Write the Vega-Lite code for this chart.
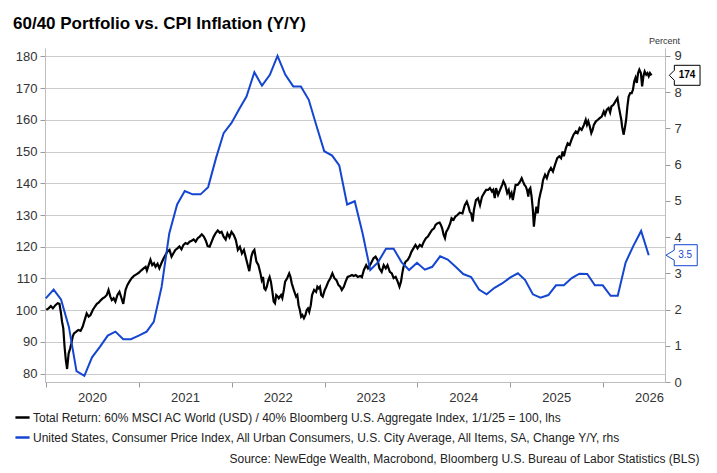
{
  "$schema": "https://vega.github.io/schema/vega-lite/v6.json",
  "width": 620,
  "height": 334,
  "autosize": {"type": "none"},
  "padding": {"left": 45, "top": 48, "right": 52, "bottom": 91},
  "background": "white",
  "config": {
    "font": "Liberation Sans",
    "view": {"stroke": null},
    "axis": {"labelFont": "Liberation Sans", "labelColor": "#333333", "labelFontSize": 13, "domainColor": "#bdbdbd", "tickColor": "#9a9a9a", "tickSize": 5}
  },
  "title": {
    "text": "60/40 Portfolio vs. CPI Inflation (Y/Y)",
    "anchor": "start",
    "frame": "group",
    "font": "Liberation Sans",
    "fontSize": 17,
    "fontWeight": "bold",
    "color": "#000000",
    "dx": -32,
    "offset": 4
  },
  "datasets": {
    "portfolio": [
      {"date":"2020-01-02","value":100.1},{"date":"2020-01-11","value":100.6},{"date":"2020-01-20","value":101.3},{"date":"2020-01-28","value":100.6},
      {"date":"2020-02-07","value":101.6},{"date":"2020-02-16","value":102.2},{"date":"2020-02-23","value":102.0},{"date":"2020-02-29","value":99.0},
      {"date":"2020-03-04","value":96.4},{"date":"2020-03-09","value":94.3},{"date":"2020-03-14","value":88.5},{"date":"2020-03-19","value":84.3},
      {"date":"2020-03-24","value":81.5},{"date":"2020-03-30","value":86.4},{"date":"2020-04-05","value":88.0},{"date":"2020-04-10","value":89.6},
      {"date":"2020-04-15","value":91.7},{"date":"2020-04-20","value":92.7},{"date":"2020-04-28","value":93.2},{"date":"2020-05-07","value":93.8},
      {"date":"2020-05-16","value":93.5},{"date":"2020-05-24","value":94.8},{"date":"2020-06-01","value":96.9},{"date":"2020-06-09","value":99.0},
      {"date":"2020-06-17","value":98.0},{"date":"2020-06-24","value":98.5},{"date":"2020-07-03","value":100.1},{"date":"2020-07-11","value":101.1},
      {"date":"2020-07-19","value":102.0},{"date":"2020-07-26","value":102.4},{"date":"2020-08-04","value":103.2},{"date":"2020-08-12","value":103.8},
      {"date":"2020-08-19","value":104.1},{"date":"2020-08-27","value":104.8},{"date":"2020-09-03","value":106.4},{"date":"2020-09-10","value":104.3},
      {"date":"2020-09-16","value":103.2},{"date":"2020-09-23","value":103.8},{"date":"2020-09-30","value":102.7},{"date":"2020-10-08","value":104.8},
      {"date":"2020-10-16","value":105.8},{"date":"2020-10-23","value":104.1},{"date":"2020-10-31","value":102.0},{"date":"2020-11-09","value":106.4},
      {"date":"2020-11-16","value":107.9},{"date":"2020-11-24","value":109.0},{"date":"2020-12-03","value":110.1},{"date":"2020-12-12","value":110.8},
      {"date":"2020-12-23","value":111.4},{"date":"2020-12-31","value":111.8},{"date":"2021-01-09","value":112.5},{"date":"2021-01-19","value":113.2},
      {"date":"2021-01-27","value":113.7},{"date":"2021-02-01","value":112.5},{"date":"2021-02-08","value":114.2},{"date":"2021-02-15","value":115.9},
      {"date":"2021-02-22","value":114.2},{"date":"2021-03-01","value":114.8},{"date":"2021-03-07","value":113.7},{"date":"2021-03-15","value":114.6},
      {"date":"2021-03-22","value":113.2},{"date":"2021-03-30","value":114.8},{"date":"2021-04-08","value":116.4},{"date":"2021-04-15","value":117.4},
      {"date":"2021-04-23","value":118.5},{"date":"2021-05-01","value":119.0},{"date":"2021-05-09","value":116.9},{"date":"2021-05-16","value":117.9},
      {"date":"2021-05-24","value":119.0},{"date":"2021-06-01","value":119.5},{"date":"2021-06-09","value":120.1},{"date":"2021-06-17","value":119.2},
      {"date":"2021-06-25","value":120.6},{"date":"2021-07-03","value":121.2},{"date":"2021-07-11","value":120.9},{"date":"2021-07-19","value":121.6},
      {"date":"2021-07-27","value":121.9},{"date":"2021-08-04","value":122.3},{"date":"2021-08-12","value":121.6},{"date":"2021-08-20","value":122.7},
      {"date":"2021-08-28","value":123.2},{"date":"2021-09-05","value":123.9},{"date":"2021-09-13","value":123.2},{"date":"2021-09-21","value":121.9},
      {"date":"2021-09-28","value":120.2},{"date":"2021-10-06","value":120.0},{"date":"2021-10-14","value":121.6},{"date":"2021-10-22","value":123.2},
      {"date":"2021-10-29","value":124.2},{"date":"2021-11-07","value":125.1},{"date":"2021-11-15","value":124.4},{"date":"2021-11-22","value":124.7},
      {"date":"2021-11-30","value":123.2},{"date":"2021-12-08","value":122.3},{"date":"2021-12-15","value":124.2},{"date":"2021-12-23","value":123.0},
      {"date":"2021-12-31","value":124.7},{"date":"2022-01-09","value":123.7},{"date":"2022-01-17","value":122.1},{"date":"2022-01-25","value":119.0},
      {"date":"2022-02-02","value":120.0},{"date":"2022-02-10","value":117.9},{"date":"2022-02-18","value":119.0},{"date":"2022-02-26","value":116.4},
      {"date":"2022-03-05","value":114.2},{"date":"2022-03-11","value":112.3},{"date":"2022-03-19","value":116.9},{"date":"2022-03-25","value":118.4},
      {"date":"2022-03-31","value":119.0},{"date":"2022-04-08","value":115.3},{"date":"2022-04-16","value":114.2},{"date":"2022-04-24","value":111.6},
      {"date":"2022-04-29","value":109.5},{"date":"2022-05-04","value":110.5},{"date":"2022-05-09","value":106.9},{"date":"2022-05-14","value":106.4},
      {"date":"2022-05-19","value":107.4},{"date":"2022-05-25","value":109.5},{"date":"2022-05-30","value":110.5},{"date":"2022-06-04","value":109.0},
      {"date":"2022-06-10","value":105.8},{"date":"2022-06-15","value":102.7},{"date":"2022-06-20","value":102.2},{"date":"2022-06-25","value":104.8},
      {"date":"2022-07-01","value":104.3},{"date":"2022-07-05","value":103.8},{"date":"2022-07-14","value":104.8},{"date":"2022-07-19","value":103.8},
      {"date":"2022-07-25","value":106.4},{"date":"2022-07-30","value":109.0},{"date":"2022-08-07","value":110.1},{"date":"2022-08-15","value":111.6},
      {"date":"2022-08-20","value":110.5},{"date":"2022-08-25","value":108.5},{"date":"2022-09-02","value":106.4},{"date":"2022-09-11","value":104.3},
      {"date":"2022-09-16","value":104.8},{"date":"2022-09-21","value":101.6},{"date":"2022-09-26","value":100.1},{"date":"2022-10-01","value":98.0},
      {"date":"2022-10-06","value":98.5},{"date":"2022-10-12","value":97.5},{"date":"2022-10-18","value":98.5},{"date":"2022-10-23","value":100.1},
      {"date":"2022-10-28","value":100.6},{"date":"2022-11-02","value":99.5},{"date":"2022-11-08","value":101.6},{"date":"2022-11-13","value":104.8},
      {"date":"2022-11-21","value":106.4},{"date":"2022-11-29","value":105.8},{"date":"2022-12-04","value":107.4},{"date":"2022-12-09","value":106.9},
      {"date":"2022-12-14","value":107.4},{"date":"2022-12-19","value":104.8},{"date":"2022-12-25","value":104.3},{"date":"2023-01-02","value":106.4},
      {"date":"2023-01-08","value":107.4},{"date":"2023-01-16","value":109.0},{"date":"2023-01-24","value":110.1},{"date":"2023-02-01","value":111.6},
      {"date":"2023-02-09","value":110.1},{"date":"2023-02-17","value":109.5},{"date":"2023-02-25","value":107.9},{"date":"2023-03-04","value":107.4},
      {"date":"2023-03-10","value":106.4},{"date":"2023-03-18","value":107.4},{"date":"2023-03-25","value":109.0},{"date":"2023-04-02","value":110.5},
      {"date":"2023-04-11","value":110.8},{"date":"2023-04-19","value":111.1},{"date":"2023-04-26","value":110.8},{"date":"2023-05-04","value":111.1},
      {"date":"2023-05-12","value":110.5},{"date":"2023-05-21","value":110.8},{"date":"2023-05-28","value":110.4},{"date":"2023-06-05","value":112.7},
      {"date":"2023-06-14","value":114.2},{"date":"2023-06-21","value":113.2},{"date":"2023-06-29","value":114.2},{"date":"2023-07-06","value":115.3},
      {"date":"2023-07-13","value":116.4},{"date":"2023-07-21","value":116.9},{"date":"2023-07-29","value":115.8},{"date":"2023-08-05","value":113.2},
      {"date":"2023-08-14","value":112.1},{"date":"2023-08-22","value":114.2},{"date":"2023-08-30","value":113.2},{"date":"2023-09-06","value":114.2},
      {"date":"2023-09-15","value":112.1},{"date":"2023-09-23","value":111.6},{"date":"2023-09-30","value":110.1},{"date":"2023-10-08","value":110.5},
      {"date":"2023-10-16","value":109.0},{"date":"2023-10-23","value":107.4},{"date":"2023-10-29","value":109.0},{"date":"2023-11-03","value":111.6},
      {"date":"2023-11-08","value":113.7},{"date":"2023-11-16","value":115.3},{"date":"2023-11-24","value":115.8},{"date":"2023-12-02","value":116.9},
      {"date":"2023-12-09","value":118.4},{"date":"2023-12-17","value":119.5},{"date":"2023-12-25","value":120.6},{"date":"2024-01-02","value":119.5},
      {"date":"2024-01-11","value":120.6},{"date":"2024-01-19","value":120.1},{"date":"2024-01-27","value":121.6},{"date":"2024-02-04","value":122.7},
      {"date":"2024-02-12","value":123.2},{"date":"2024-02-20","value":124.3},{"date":"2024-02-28","value":125.3},{"date":"2024-03-07","value":125.8},
      {"date":"2024-03-13","value":126.9},{"date":"2024-03-21","value":127.4},{"date":"2024-03-29","value":127.6},{"date":"2024-04-03","value":126.9},
      {"date":"2024-04-08","value":125.8},{"date":"2024-04-14","value":123.7},{"date":"2024-04-19","value":122.7},{"date":"2024-04-24","value":124.7},
      {"date":"2024-05-02","value":125.8},{"date":"2024-05-10","value":127.4},{"date":"2024-05-15","value":129.0},{"date":"2024-05-23","value":128.5},
      {"date":"2024-05-30","value":129.5},{"date":"2024-06-07","value":130.0},{"date":"2024-06-16","value":130.7},{"date":"2024-06-27","value":130.5},
      {"date":"2024-07-06","value":133.1},{"date":"2024-07-14","value":134.2},{"date":"2024-07-21","value":132.6},{"date":"2024-07-26","value":131.0},
      {"date":"2024-07-31","value":130.5},{"date":"2024-08-06","value":127.9},{"date":"2024-08-11","value":131.6},{"date":"2024-08-19","value":134.7},
      {"date":"2024-08-27","value":135.3},{"date":"2024-09-04","value":133.1},{"date":"2024-09-12","value":135.8},{"date":"2024-09-20","value":136.9},
      {"date":"2024-09-28","value":137.9},{"date":"2024-10-06","value":137.9},{"date":"2024-10-13","value":138.5},{"date":"2024-10-21","value":137.4},
      {"date":"2024-10-26","value":137.9},{"date":"2024-11-01","value":135.3},{"date":"2024-11-06","value":138.5},{"date":"2024-11-14","value":136.3},
      {"date":"2024-11-22","value":137.9},{"date":"2024-11-30","value":139.5},{"date":"2024-12-05","value":140.6},{"date":"2024-12-12","value":139.5},
      {"date":"2024-12-20","value":136.9},{"date":"2024-12-26","value":137.9},{"date":"2024-12-31","value":135.8},{"date":"2025-01-06","value":136.9},
      {"date":"2025-01-11","value":134.7},{"date":"2025-01-17","value":137.4},{"date":"2025-01-22","value":139.5},{"date":"2025-01-30","value":139.5},
      {"date":"2025-02-04","value":140.0},{"date":"2025-02-09","value":140.6},{"date":"2025-02-15","value":141.6},{"date":"2025-02-20","value":140.6},
      {"date":"2025-02-26","value":139.5},{"date":"2025-03-03","value":139.0},{"date":"2025-03-08","value":137.9},{"date":"2025-03-13","value":135.8},
      {"date":"2025-03-16","value":137.9},{"date":"2025-03-21","value":138.5},{"date":"2025-03-26","value":135.8},{"date":"2025-03-31","value":131.6},
      {"date":"2025-04-04","value":126.3},{"date":"2025-04-08","value":129.5},{"date":"2025-04-14","value":132.6},{"date":"2025-04-19","value":130.5},
      {"date":"2025-04-24","value":134.7},{"date":"2025-04-30","value":136.9},{"date":"2025-05-05","value":138.5},{"date":"2025-05-10","value":141.0},
      {"date":"2025-05-18","value":142.7},{"date":"2025-05-25","value":141.6},{"date":"2025-06-02","value":143.7},{"date":"2025-06-10","value":144.8},
      {"date":"2025-06-18","value":143.7},{"date":"2025-06-26","value":145.8},{"date":"2025-07-05","value":147.9},{"date":"2025-07-13","value":148.5},
      {"date":"2025-07-20","value":147.9},{"date":"2025-07-26","value":150.0},{"date":"2025-07-31","value":148.5},{"date":"2025-08-08","value":151.1},
      {"date":"2025-08-15","value":152.6},{"date":"2025-08-23","value":152.1},{"date":"2025-08-30","value":153.7},{"date":"2025-09-07","value":155.3},
      {"date":"2025-09-16","value":156.3},{"date":"2025-09-23","value":155.8},{"date":"2025-10-01","value":157.4},{"date":"2025-10-09","value":156.8},
      {"date":"2025-10-18","value":158.4},{"date":"2025-10-25","value":160.0},{"date":"2025-10-30","value":158.4},{"date":"2025-11-04","value":159.5},
      {"date":"2025-11-10","value":157.9},{"date":"2025-11-16","value":155.8},{"date":"2025-11-21","value":156.8},{"date":"2025-11-26","value":158.4},
      {"date":"2025-12-04","value":159.5},{"date":"2025-12-12","value":160.0},{"date":"2025-12-19","value":160.5},{"date":"2025-12-27","value":161.0},
      {"date":"2026-01-04","value":162.6},{"date":"2026-01-09","value":161.6},{"date":"2026-01-16","value":163.2},{"date":"2026-01-23","value":163.7},
      {"date":"2026-01-29","value":162.3},{"date":"2026-02-03","value":164.2},{"date":"2026-02-11","value":164.7},{"date":"2026-02-19","value":165.8},
      {"date":"2026-02-27","value":166.8},{"date":"2026-03-04","value":164.2},{"date":"2026-03-09","value":162.1},{"date":"2026-03-14","value":160.0},
      {"date":"2026-03-17","value":157.9},{"date":"2026-03-23","value":155.3},{"date":"2026-03-28","value":157.4},{"date":"2026-04-02","value":160.0},
      {"date":"2026-04-07","value":164.2},{"date":"2026-04-12","value":167.3},{"date":"2026-04-18","value":168.4},{"date":"2026-04-24","value":168.4},
      {"date":"2026-04-29","value":169.5},{"date":"2026-05-04","value":172.1},{"date":"2026-05-09","value":173.2},{"date":"2026-05-14","value":171.6},
      {"date":"2026-05-19","value":174.7},{"date":"2026-05-24","value":175.8},{"date":"2026-05-30","value":174.7},{"date":"2026-06-04","value":170.5},
      {"date":"2026-06-09","value":173.7},{"date":"2026-06-14","value":175.2},{"date":"2026-06-20","value":174.2},{"date":"2026-06-25","value":174.7},
      {"date":"2026-06-30","value":173.7},{"date":"2026-07-05","value":174.7},{"date":"2026-07-11","value":174.0}
    ],
    "cpi": [
      {"date":"2019-12-31","value":2.31},{"date":"2020-01-31","value":2.55},{"date":"2020-02-29","value":2.28},{"date":"2020-03-31","value":1.52},
      {"date":"2020-04-30","value":0.30},{"date":"2020-05-31","value":0.17},{"date":"2020-06-30","value":0.68},{"date":"2020-07-31","value":0.97},
      {"date":"2020-08-31","value":1.28},{"date":"2020-09-30","value":1.39},{"date":"2020-10-31","value":1.18},{"date":"2020-11-30","value":1.18},
      {"date":"2020-12-31","value":1.28},{"date":"2021-01-31","value":1.39},{"date":"2021-02-28","value":1.66},{"date":"2021-03-31","value":2.63},
      {"date":"2021-04-30","value":4.10},{"date":"2021-05-31","value":4.90},{"date":"2021-06-30","value":5.27},{"date":"2021-07-31","value":5.18},
      {"date":"2021-08-31","value":5.18},{"date":"2021-09-30","value":5.38},{"date":"2021-10-31","value":6.18},{"date":"2021-11-30","value":6.87},
      {"date":"2021-12-31","value":7.15},{"date":"2022-01-31","value":7.54},{"date":"2022-02-28","value":7.88},{"date":"2022-03-31","value":8.55},
      {"date":"2022-04-30","value":8.18},{"date":"2022-05-31","value":8.48},{"date":"2022-06-30","value":9.0},{"date":"2022-07-31","value":8.48},
      {"date":"2022-08-31","value":8.16},{"date":"2022-09-30","value":8.16},{"date":"2022-10-31","value":7.79},{"date":"2022-11-30","value":7.08},
      {"date":"2022-12-31","value":6.37},{"date":"2023-01-31","value":6.25},{"date":"2023-02-28","value":5.98},{"date":"2023-03-31","value":4.90},
      {"date":"2023-04-30","value":4.99},{"date":"2023-05-31","value":4.10},{"date":"2023-06-30","value":3.09},{"date":"2023-07-31","value":3.31},
      {"date":"2023-08-31","value":3.68},{"date":"2023-09-30","value":3.68},{"date":"2023-10-31","value":3.31},{"date":"2023-11-30","value":3.09},
      {"date":"2023-12-31","value":3.29},{"date":"2024-01-31","value":3.10},{"date":"2024-02-29","value":3.18},{"date":"2024-03-31","value":3.47},
      {"date":"2024-04-30","value":3.38},{"date":"2024-05-31","value":3.18},{"date":"2024-06-30","value":2.98},{"date":"2024-07-31","value":2.90},
      {"date":"2024-08-31","value":2.55},{"date":"2024-09-30","value":2.42},{"date":"2024-10-31","value":2.60},{"date":"2024-11-30","value":2.72},
      {"date":"2024-12-31","value":2.88},{"date":"2025-01-31","value":3.00},{"date":"2025-02-28","value":2.82},{"date":"2025-03-31","value":2.42},
      {"date":"2025-04-30","value":2.33},{"date":"2025-05-31","value":2.40},{"date":"2025-06-30","value":2.67},{"date":"2025-07-31","value":2.67},
      {"date":"2025-08-31","value":2.87},{"date":"2025-09-30","value":2.99},{"date":"2025-10-31","value":2.98},{"date":"2025-11-30","value":2.67},
      {"date":"2025-12-31","value":2.67},{"date":"2026-01-31","value":2.38},{"date":"2026-02-28","value":2.38},{"date":"2026-03-31","value":3.30},
      {"date":"2026-04-30","value":3.75},{"date":"2026-05-31","value":4.17},{"date":"2026-06-30","value":3.5}
    ]
  },
  "layer": [
    {
      "data": {"name": "portfolio"},
      "encoding": {
        "x": {
          "field": "date",
          "type": "temporal",
          "scale": {"type": "utc", "domain": [{"year": 2019, "month": 12, "date": 28, "utc": true}, {"year": 2026, "month": 9, "date": 2, "utc": true}]},
          "axis": {
            "orient": "bottom",
            "format": "%Y",
            "tickCount": {"interval": "year", "step": 1},
            "labelOffset": 46,
            "labelAlign": "center",
            "labelFlush": false,
            "labelPadding": 4,
            "grid": false,
            "title": "Source: NewEdge Wealth, Macrobond, Bloomberg U.S. Bureau of Labor Statistics (BLS)",
            "titleFont": "Liberation Sans",
            "titleFontSize": 12,
            "titleFontWeight": "normal",
            "titleColor": "#222222",
            "titleAlign": "right",
            "titleBaseline": "alphabetic",
            "titleX": 654,
            "titleY": 80
          }
        },
        "y": {
          "field": "value",
          "type": "quantitative",
          "scale": {"domain": [77.4, 182.6], "nice": false, "zero": false},
          "axis": {
            "orient": "left",
            "values": [80, 90, 100, 110, 120, 130, 140, 150, 160, 170, 180],
            "grid": true,
            "gridColor": "#cccccc",
            "gridWidth": 1,
            "labelPadding": 3,
            "title": null
          }
        }
      },
      "layer": [
        {
          "mark": {"type": "line", "strokeWidth": 2.2, "interpolate": "linear"},
          "encoding": {
            "color": {
              "datum": "Total Return: 60% MSCI AC World (USD) / 40% Bloomberg U.S. Aggregate Index, 1/1/25 = 100, lhs",
              "type": "nominal",
              "scale": {
                "domain": [
                  "Total Return: 60% MSCI AC World (USD) / 40% Bloomberg U.S. Aggregate Index, 1/1/25 = 100, lhs",
                  "United States, Consumer Price Index, All Urban Consumers, U.S. City Average, All Items, SA, Change Y/Y, rhs"
                ],
                "range": ["#000000", "#1446d2"]
              },
              "legend": {
                "orient": "none",
                "legendX": -31,
                "legendY": 361,
                "direction": "vertical",
                "title": null,
                "symbolType": "stroke",
                "symbolSize": 200,
                "symbolStrokeWidth": 2.5,
                "labelFont": "Liberation Sans",
                "labelFontSize": 12,
                "labelColor": "#222222",
                "labelLimit": 800,
                "labelOffset": 2,
                "rowPadding": 5,
                "padding": 0
              }
            }
          }
        },
        {
          "transform": [{"filter": "time(datum.date) === utc(2026, 6, 11)"}],
          "mark": {
            "type": "point",
            "shape": "M22.8,-10H48.5V10H22.8V5L17.8,0L22.8,-5Z",
            "size": 4,
            "filled": true,
            "fill": "white",
            "stroke": "#000000",
            "strokeWidth": 1,
            "opacity": 1
          }
        },
        {
          "transform": [{"filter": "time(datum.date) === utc(2026, 6, 11)"}],
          "mark": {"type": "text", "dx": 35.5, "align": "center", "baseline": "middle", "font": "Liberation Sans", "fontSize": 10, "fontWeight": "bold", "color": "#000000"},
          "encoding": {"text": {"field": "value", "type": "quantitative", "format": ".0f"}}
        }
      ]
    },
    {
      "data": {"name": "cpi"},
      "encoding": {
        "x": {"field": "date", "type": "temporal"},
        "y": {
          "field": "value",
          "type": "quantitative",
          "scale": {"domain": [0, 9.22], "nice": false, "zero": false},
          "axis": {
            "orient": "right",
            "values": [0, 1, 2, 3, 4, 5, 6, 7, 8, 9],
            "grid": false,
            "labelPadding": 4,
            "title": "Percent",
            "titleAngle": 0,
            "titleFont": "Liberation Sans",
            "titleFontSize": 9,
            "titleFontWeight": "normal",
            "titleColor": "#333333",
            "titleAlign": "center",
            "titleBaseline": "alphabetic",
            "titleX": -1,
            "titleY": -4.5
          }
        }
      },
      "layer": [
        {
          "mark": {"type": "line", "strokeWidth": 2, "interpolate": "linear"},
          "encoding": {
            "color": {
              "datum": "United States, Consumer Price Index, All Urban Consumers, U.S. City Average, All Items, SA, Change Y/Y, rhs",
              "type": "nominal"
            }
          }
        },
        {
          "transform": [{"filter": "time(datum.date) === utc(2026, 5, 30)"}],
          "mark": {
            "type": "point",
            "shape": "M25.5,-10.5H48.5V10.5H25.5V5L17.2,0L25.5,-5Z",
            "size": 4,
            "filled": true,
            "fill": "white",
            "stroke": "#1446d2",
            "strokeWidth": 1,
            "opacity": 1
          }
        },
        {
          "transform": [{"filter": "time(datum.date) === utc(2026, 5, 30)"}],
          "mark": {"type": "text", "dx": 36.5, "align": "center", "baseline": "middle", "font": "Liberation Sans", "fontSize": 10, "color": "#1446d2"},
          "encoding": {"text": {"field": "value", "type": "quantitative", "format": ".1f"}}
        }
      ]
    }
  ],
  "resolve": {"scale": {"y": "independent"}}
}
